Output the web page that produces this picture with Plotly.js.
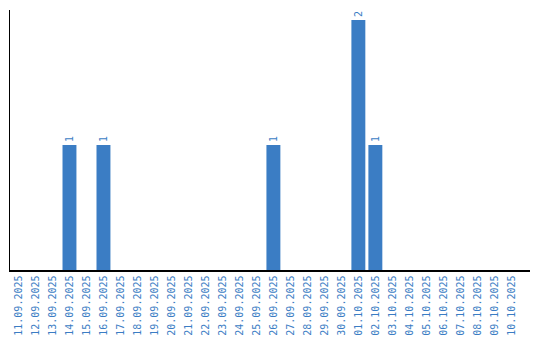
<!DOCTYPE html>
<html><head><meta charset="utf-8">
<script src="https://cdn.plot.ly/plotly-3.0.1.min.js"></script>
<style>html,body{margin:0;padding:0;background:#fff}#c{width:540px;height:340px}</style>
</head><body><div id="c"></div>
<script>
const dates = ["11.09.2025","12.09.2025","13.09.2025","14.09.2025","15.09.2025","16.09.2025","17.09.2025","18.09.2025","19.09.2025","20.09.2025","21.09.2025","22.09.2025","23.09.2025","24.09.2025","25.09.2025","26.09.2025","27.09.2025","28.09.2025","29.09.2025","30.09.2025","01.10.2025","02.10.2025","03.10.2025","04.10.2025","05.10.2025","06.10.2025","07.10.2025","08.10.2025","09.10.2025","10.10.2025"];
const counts = [0,0,0,1,0,1,0,0,0,0,0,0,0,0,0,1,0,0,0,0,2,1,0,0,0,0,0,0,0,0];
const labels = counts.map(v => v > 0 ? String(v) : "");
const blue = "#3b7dc4";
Plotly.newPlot("c", [{
  type: "bar", x: dates, y: counts, text: labels,
  textposition: "outside", textangle: -90, cliponaxis: false,
  textfont: {family: "DejaVu Sans Mono", size: 10, color: blue},
  marker: {color: blue}, hoverinfo: "none"
}], {
  width: 540, height: 340,
  margin: {l: 10, r: 10, t: 10, b: 70},
  paper_bgcolor: "#fff", plot_bgcolor: "#fff",
  bargap: 0.18, showlegend: false,
  xaxis: {type: "category", range: [-0.5, 30.1], showline: true, linecolor: "#000", linewidth: 1.5,
    showgrid: false, zeroline: false, ticks: "", tickangle: -90,
    tickfont: {family: "DejaVu Sans Mono", size: 10, color: blue}},
  yaxis: {range: [0, 2.08], showline: true, linecolor: "#000", linewidth: 1.5,
    showgrid: false, zeroline: false, showticklabels: false, ticks: ""}
}, {displayModeBar: false, staticPlot: true});
</script></body></html>
